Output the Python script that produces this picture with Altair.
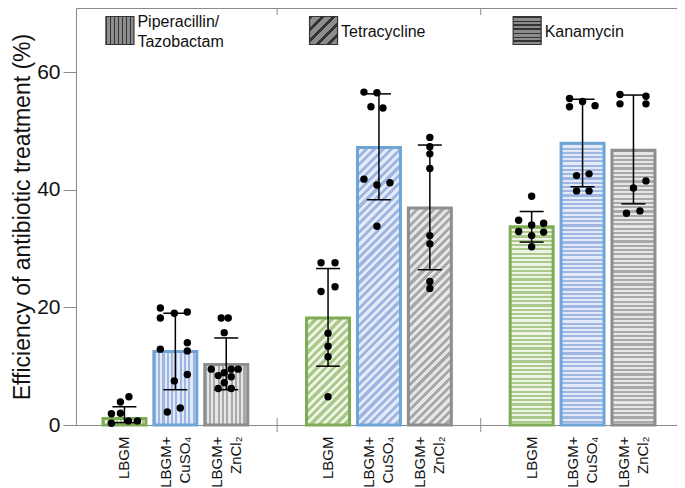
import altair as alt
import pandas as pd

# ---------------- data ----------------
categories = ["LBGM|P", "CuSO4|P", "ZnCl2|P", "sp1",
              "LBGM|T", "CuSO4|T", "ZnCl2|T", "sp2",
              "LBGM|K", "CuSO4|K", "ZnCl2|K"]
bar_cats = ["LBGM|P", "CuSO4|P", "ZnCl2|P",
            "LBGM|T", "CuSO4|T", "ZnCl2|T",
            "LBGM|K", "CuSO4|K", "ZnCl2|K"]
bar_means = [1.1, 12.5, 10.3, 18.2, 47.2, 36.9, 33.7, 47.9, 46.7]
err_low = [0.4, 6.0, 6.0, 10.0, 38.3, 26.4, 31.1, 40.5, 37.6]
err_high = [3.1, 19.0, 14.8, 26.6, 56.3, 47.6, 36.3, 55.4, 56.1]

point_values = {
    "LBGM|P": [4.8, 3.9, 1.9, 2.0, 0.3, 0.7, 0.7],
    "CuSO4|P": [19.9, 18.2, 19.0, 19.2, 12.9, 14.0, 12.6, 7.5, 8.6, 2.2, 2.9],
    "ZnCl2|P": [18.2, 18.2, 15.7, 9.5, 9.5, 9.5, 8.4, 8.9, 8.2, 6.2, 6.2, 7.2],
    "LBGM|T": [27.6, 27.6, 22.7, 23.5, 15.6, 13.4, 11.6, 4.8],
    "CuSO4|T": [56.6, 56.5, 54.1, 53.9, 41.8, 40.8, 41.2, 33.8],
    "ZnCl2|T": [48.9, 47.3, 46.1, 43.6, 32.2, 30.8, 24.4, 23.2],
    "LBGM|K": [38.9, 34.8, 34.0, 34.3, 32.9, 32.2, 32.8, 30.3],
    "CuSO4|K": [55.5, 54.1, 55.0, 54.3, 42.4, 42.7, 39.8, 39.8],
    "ZnCl2|K": [56.2, 54.6, 55.9, 54.6, 40.3, 41.5, 36.0, 36.4],
}
point_jitter = {
    "LBGM|P": [4.5, -4, -13, -4, -13, 4, 13],
    "CuSO4|P": [-15, -15, -1, 12, -15, 12, 12, -1, 12, -8, 5],
    "ZnCl2|P": [-5, 2, -2, -15, 5, 12, -8, -2, 5, -8, 5, -2],
    "LBGM|T": [-7, 7, -7, 7, 0, 0, 0, 0],
    "CuSO4|T": [-15, -2, -8, 4, -15, -2, 11, -2],
    "ZnCl2|T": [0, 0, 0, 0, 0, 0, 0, 0],
    "LBGM|K": [0, -13, 0, 12, -13, 0, 12, 0],
    "CuSO4|K": [-13, -13, 0, 12.5, -6, 6.5, -6, 6.5],
    "ZnCl2|K": [-13.5, -13.5, 12.5, 12.5, 0, 12.5, -7, 6.5],
}

legend_cats = ["LBGM|P", "LBGM|T", "LBGM|K"]
legend_labels = ["Piperacillin/|Tazobactam", "Tetracycline", "Kanamycin"]
divider_cats = ["sp1", "sp2"]

y_title = "Efficiency of antibiotic treatment (%)"
y_ticks = [0, 20, 40, 60]
y_max = 70.9

# ---------------- styles ----------------
W, H = 601, 417
BAND = 43
PPU = H / y_max
FONT = "Liberation Sans"

cond_style = {
    "LBGM": {"stroke": "#7eab55", "c1": "#abc98a", "c2": "#edf4e5"},
    "CuSO4": {"stroke": "#6fa5d6", "c1": "#9fb6e2", "c2": "#e3eaf7"},
    "ZnCl2": {"stroke": "#8e8e8e", "c1": "#a9a9a9", "c2": "#e6e6e6"},
}


def stripes(x1, y1, x2, y2, n, c1, c2, duty=0.5):
    stops = []
    for k in range(n):
        a = k / n
        b = (k + duty) / n
        c = (k + 1) / n
        stops += [(a, c1), (b, c1), (b, c2), (c, c2)]
    return {"gradient": "linear", "x1": x1, "y1": y1, "x2": x2, "y2": y2,
            "stops": [{"offset": round(min(max(o, 0), 1), 5), "color": col}
                      for o, col in stops]}


def bar_gradient(cat, value):
    cond, grp = cat.split("|")
    st = cond_style[cond]
    h = max(value * PPU, 1.0)
    if grp == "P":   # vertical stripes
        return stripes(0, 0, 1, 0, 10, st["c1"], st["c2"])
    if grp == "K":   # horizontal stripes
        n = max(1, round(h / 4.3))
        return stripes(0, 0, 0, 1, n, st["c1"], st["c2"])
    # diagonal stripes (/)
    w = BAND
    t = (w + h) / (w * w + h * h)
    n = max(1, round((w + h) / 8.5))
    return stripes(0, 0, t * w, t * h, n, st["c1"], st["c2"])


legend_grads = [
    stripes(0, 0, 1, 0, 7, "#333333", "#8d8d8d", 0.35),
    stripes(0, 0, 1, 1, 5, "#333333", "#8d8d8d", 0.35),
    stripes(0, 0, 0, 1, 7, "#333333", "#8d8d8d", 0.35),
]

# ---------------- tables ----------------
bars_df = pd.DataFrame({"cat": bar_cats, "mean": bar_means,
                        "low": err_low, "high": err_high})
pts_rows = []
for c in bar_cats:
    for v, j in zip(point_values[c], point_jitter[c]):
        pts_rows.append({"cat": c, "v": v, "jit": j})
pts_df = pd.DataFrame(pts_rows)
legend_df = pd.DataFrame({"cat": legend_cats, "label": legend_labels})
div_df = pd.DataFrame({"cat": divider_cats})

# ---------------- encodings ----------------
label_expr = ("indexof(datum.value,'CuSO4')==0 ? ['LBGM+','CuSO\u2084'] : "
              "indexof(datum.value,'ZnCl2')==0 ? ['LBGM+','ZnCl\u2082'] : "
              "indexof(datum.value,'LBGM')==0 ? 'LBGM' : ''")
two_line_test = "indexof(datum.value,'CuSO4')==0 || indexof(datum.value,'ZnCl2')==0"

x_enc = alt.X("cat:N", title=None,
              scale=alt.Scale(domain=categories, paddingInner=0.155, paddingOuter=0.481,
                              align=0.55),
              axis=alt.Axis(labelAngle=270, labelFontSize=15, labelLineHeight=19,
                            labelPadding=11, ticks=False, labelExpr=label_expr,
                            labelAlign="right", labelBaseline="middle",
                            labelOffset={"condition": {"test": two_line_test, "value": -9.5},
                                         "value": 0},
                            domain=True, labelOverlap=False))
y_scale = alt.Scale(domain=[0, y_max], nice=False, zero=True)
y_axis = alt.Axis(values=y_ticks, tickSize=13, labelFontSize=21, titleFontSize=23,
                  titleFontWeight="normal", labelPadding=3, titlePadding=2,
                  grid=False, domain=True)


def y_enc(field):
    return alt.Y(f"{field}:Q", title=y_title, scale=y_scale, axis=y_axis)


layers = []
for c, m in zip(bar_cats, bar_means):
    cond = c.split("|")[0]
    layers.append(
        alt.Chart(bars_df).transform_filter(alt.datum.cat == c)
        .mark_bar(fill=bar_gradient(c, m), stroke=cond_style[cond]["stroke"],
                  strokeWidth=3, opacity=1, width=BAND)
        .encode(x=x_enc, y=y_enc("mean"))
    )

layers.append(alt.Chart(bars_df).mark_rule(color="black", strokeWidth=1.5)
              .encode(x=x_enc, y=y_enc("low"), y2="high:Q"))
for f in ["low", "high"]:
    layers.append(alt.Chart(bars_df).mark_tick(color="black", thickness=1.5, size=24, opacity=1)
                  .encode(x=x_enc, y=y_enc(f)))

layers.append(
    alt.Chart(pts_df).mark_circle(size=55, color="black", opacity=1)
    .encode(x=x_enc, y=y_enc("v"),
            xOffset=alt.XOffset("jit:Q", scale=alt.Scale(domain=[-BAND / 2, BAND / 2],
                                                         range=[0, BAND])))
)

# group dividers (top and bottom)
layers.append(alt.Chart(div_df).mark_rule(color="#8a8a8a", strokeWidth=1)
              .encode(x=x_enc, y=alt.value(H - 7), y2=alt.value(H + 7)))
layers.append(alt.Chart(div_df).mark_rule(color="#8a8a8a", strokeWidth=1)
              .encode(x=x_enc, y=alt.value(-7), y2=alt.value(7)))

# legend
for c, g in zip(legend_cats, legend_grads):
    layers.append(
        alt.Chart(legend_df).transform_filter(alt.datum.cat == c)
        .mark_point(shape="square", size=784, filled=True, fill=g, stroke="#333333",
                    strokeWidth=1.2, opacity=1, xOffset=-4.5)
        .encode(x=x_enc, y=alt.value(22.5))
    )
legend_text = alt.Chart(legend_df).transform_calculate(
    lines="split(datum.label,'|')", nlines="length(split(datum.label,'|'))")
layers.append(
    legend_text.transform_filter("datum.nlines == 1")
    .mark_text(align="left", baseline="middle", fontSize=16, lineHeight=20,
               dx=13, color="#111111", font=FONT)
    .encode(x=x_enc, y=alt.value(24), text="lines:N")
)
layers.append(
    legend_text.transform_filter("datum.nlines > 1")
    .mark_text(align="left", baseline="middle", fontSize=16, lineHeight=20,
               dx=13, color="#111111", font=FONT)
    .encode(x=x_enc, y=alt.value(14), text="lines:N")
)

chart = (
    alt.layer(*layers)
    .properties(width=W, height=H, autosize=alt.AutoSizeParams(type="none"),
                padding={"left": 68, "top": 0, "right": 0, "bottom": 64})
    .configure_view(stroke="#8a8a8a", strokeWidth=1)
    .configure_axis(domainColor="#8a8a8a", tickColor="#8a8a8a", labelColor="#111111",
                    titleColor="#111111", labelFont=FONT, titleFont=FONT, grid=False)
    .configure_text(font=FONT)
)

chart.save("out.html", embed_options={"renderer": "svg", "actions": False})
